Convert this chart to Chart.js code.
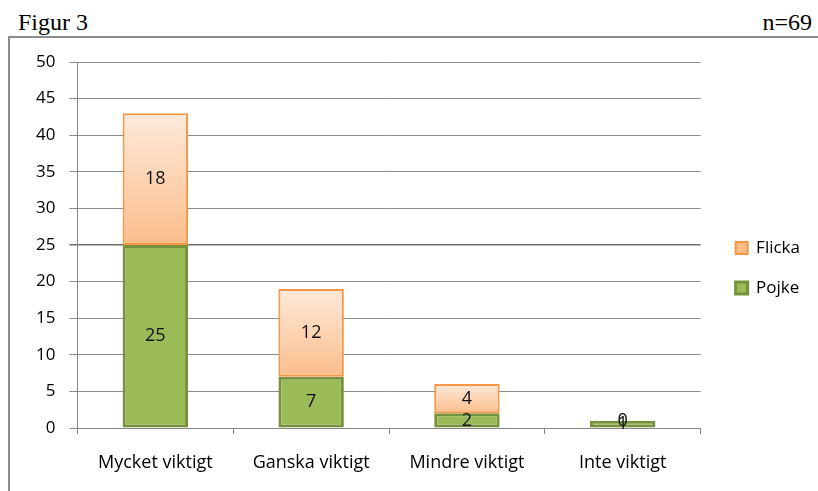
<!DOCTYPE html>
<html>
<head>
<meta charset="utf-8">
<script src="https://cdn.jsdelivr.net/npm/chart.js@4"></script>
<style>
  html, body { margin: 0; padding: 0; background: #fff; }
  #wrap { position: relative; width: 818px; height: 491px; }
  canvas { position: absolute; left: 0; top: 0; }
  .cap { position: absolute; top: 8px; font-family: "Liberation Serif", serif; font-size: 24px; line-height: 28px; color: #000; }
</style>
</head>
<body>
<div id="wrap">
  <div class="cap" style="left:18px">Figur 3</div>
  <div class="cap" style="right:6px">n=69</div>
  <canvas id="chart" width="818" height="491"></canvas>
</div>
<script>
// Figur 3 data
const categories = ['Mycket viktigt', 'Ganska viktigt', 'Mindre viktigt', 'Inte viktigt'];
const pojke = [25, 7, 2, 1];
const flicka = [18, 12, 4, 0];
const yTicks = [0, 5, 10, 15, 20, 25, 30, 35, 40, 45, 50];

const FONT = '"Open Sans", Lato, sans-serif';

// Frame: grey line on the left and top
const framePlugin = {
  id: 'frame',
  beforeDraw(chart) {
    const ctx = chart.ctx;
    ctx.save();
    ctx.strokeStyle = '#8c8c8c';
    ctx.lineWidth = 2;
    ctx.beginPath();
    ctx.moveTo(9, 491);
    ctx.lineTo(9, 37);
    ctx.lineTo(818, 37);
    ctx.stroke();
    ctx.restore();
  },
};

// Value labels in the middle of each segment
const valueLabels = {
  id: 'valueLabels',
  afterDatasetsDraw(chart) {
    const ctx = chart.ctx;
    ctx.save();
    ctx.font = '18px ' + FONT;
    ctx.fillStyle = '#111';
    ctx.textAlign = 'center';
    ctx.textBaseline = 'middle';
    chart.data.datasets.forEach((ds, i) => {
      const meta = chart.getDatasetMeta(i);
      meta.data.forEach((bar, j) => {
        const y = (bar.y + bar.base) / 2;
        ctx.fillText(String(ds.data[j]), bar.x, y);
      });
    });
    ctx.restore();
  },
};

function flickaFill(context) {
  const chart = context.chart;
  const scale = chart.scales.y;
  if (!scale || context.dataIndex === undefined) return '#fcd0ac';
  const i = context.dataIndex;
  const top = scale.getPixelForValue(pojke[i] + flicka[i]);
  const bottom = scale.getPixelForValue(pojke[i]);
  if (!isFinite(top) || !isFinite(bottom) || top === bottom) return '#fcd0ac';
  const g = chart.ctx.createLinearGradient(0, top, 0, bottom);
  g.addColorStop(0, '#fde9da');
  g.addColorStop(1, '#fbbd8b');
  return g;
}

new Chart(document.getElementById('chart'), {
  type: 'bar',
  data: {
    labels: categories,
    datasets: [
      {
        label: 'Pojke',
        data: pojke,
        backgroundColor: '#9bbb59',
        borderColor: '#76923c',
        borderWidth: 3,
        borderSkipped: false,
        barPercentage: 0.42,
        categoryPercentage: 1,
      },
      {
        label: 'Flicka',
        data: flicka,
        backgroundColor: flickaFill,
        borderColor: '#f79646',
        borderWidth: 2,
        borderSkipped: false,
        barPercentage: 0.42,
        categoryPercentage: 1,
      },
    ],
  },
  options: {
    responsive: false,
    animation: false,
    layout: { padding: { top: 62, left: 22, right: 8, bottom: 17 } },
    plugins: {
      legend: {
        position: 'right',
        align: 'center',
        reverse: true,
        labels: {
          color: '#000',
          font: { family: FONT, size: 17 },
          boxWidth: 12,
          boxHeight: 12,
          padding: 23,
          useBorderRadius: false,
        },
      },
      tooltip: { enabled: false },
    },
    scales: {
      x: {
        stacked: true,
        offset: true,
        afterFit: (s) => { s.height = 46; },
        ticks: { color: '#000', font: { family: FONT, size: 18 }, padding: 18 },
        grid: {
          offset: true,
          drawOnChartArea: false,
          color: '#868686',
          tickLength: 6,
        },
        border: { color: '#868686', width: 1 },
      },
      y: {
        stacked: true,
        min: 0,
        max: 50,
        afterBuildTicks: (axis) => { axis.ticks = yTicks.map((v) => ({ value: v })); },
        ticks: { color: '#000', font: { family: FONT, size: 17 }, padding: 14 },
        grid: {
          color: (c) => (c.tick && c.tick.value === 25 ? '#6e6e6e' : '#8c8c8c'),
          lineWidth: (c) => (c.tick && c.tick.value === 25 ? 1.5 : 1),
          tickLength: 8,
        },
        border: { color: '#868686', width: 1 },
      },
      // empty spacer between plot and legend
      gap: {
        type: 'linear',
        position: 'right',
        display: true,
        afterFit: (s) => { s.width = 12; },
        ticks: { display: false },
        grid: { display: false },
        border: { display: false },
      },
    },
  },
  plugins: [framePlugin, valueLabels],
});
</script>
</body>
</html>
